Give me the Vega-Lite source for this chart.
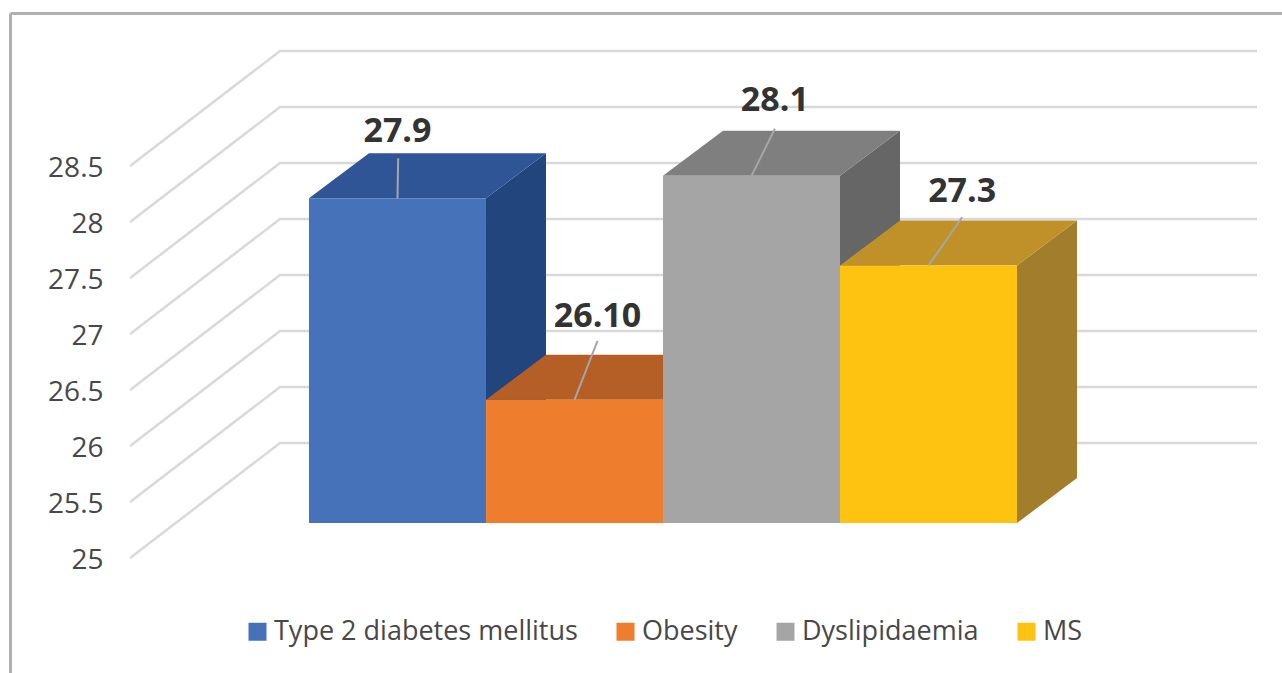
{
  "$schema": "https://vega.github.io/schema/vega-lite/v6.json",
  "width": 1272,
  "height": 660,
  "autosize": "none",
  "padding": {"left": 10, "top": 13, "right": 0, "bottom": 0},
  "background": "white",
  "config": {"view": {"stroke": null}},
  "datasets": {
    "burden": [
      {"category": "Type 2 diabetes mellitus", "value": 27.9, "label": "27.9"},
      {"category": "Obesity", "value": 26.1, "label": "26.10"},
      {"category": "Dyslipidaemia", "value": 28.1, "label": "28.1"},
      {"category": "MS", "value": 27.3, "label": "27.3"}
    ],
    "levels": [
      {"level": 25}, {"level": 25.5}, {"level": 26}, {"level": 26.5},
      {"level": 27}, {"level": 27.5}, {"level": 28}, {"level": 28.5}
    ]
  },
  "layer": [
    {
      "data": {"name": "levels"},
      "transform": [
        {"calculate": "[{x:-1.011,v:-0.3125},{x:-0.164,v:0.714},{x:5.356,v:0.714}]", "as": "path"},
        {"flatten": ["path"]},
        {"calculate": "datum.path.x", "as": "px"},
        {"calculate": "datum.level + datum.path.v", "as": "py"}
      ],
      "mark": {"type": "line", "stroke": "#d9d9d9", "strokeWidth": 2.5, "clip": false},
      "encoding": {
        "x": {"field": "px", "type": "quantitative", "sort": null,
              "scale": {"domain": [-1.689, 5.497], "nice": false, "zero": false},
              "axis": {"orient": "top", "title": null, "labels": false, "ticks": false, "grid": false,
                       "domain": true, "domainColor": "#b0b0b2", "domainWidth": 3}},
        "y": {"field": "py", "type": "quantitative",
              "scale": {"domain": [23.661, 29.554], "nice": false, "zero": false},
              "axis": {"orient": "left", "title": null, "grid": false, "ticks": false,
                       "domain": true, "domainColor": "#b0b0b2", "domainWidth": 3,
                       "values": [25, 25.5, 26, 26.5, 27, 27.5, 28, 28.5], "format": ".1~f",
                       "labelPadding": -93, "labelOffset": 37, "labelAlign": "right", "labelBaseline": "middle",
                       "labelFont": "Open Sans", "labelFontSize": 28, "labelColor": "#484848",
                       "labelOverlap": false, "labelBound": false, "labelFlush": false}},
        "detail": {"field": "level"}
      }
    },
    {
      "data": {"name": "burden"},
      "transform": [
        {"window": [{"op": "row_number", "as": "rank"}]},
        {"calculate": "[0, 0.339]", "as": "depth"},
        {"flatten": ["depth"]},
        {"calculate": "datum.rank + datum.depth", "as": "px"},
        {"calculate": "datum.value + datum.depth * 1.186", "as": "upper"},
        {"calculate": "25 + datum.depth * 1.186", "as": "lower"}
      ],
      "mark": {"type": "area", "interpolate": "linear", "opacity": 1},
      "encoding": {
        "x": {"field": "px", "type": "quantitative"},
        "y": {"field": "upper", "type": "quantitative"},
        "y2": {"field": "lower"},
        "color": {"field": "category", "type": "nominal", "legend": null,
                  "scale": {"domain": ["Type 2 diabetes mellitus", "Obesity", "Dyslipidaemia", "MS"],
                            "range": ["#22457e", "#9e5522", "#666666", "#a27d2c"]}}
      }
    },
    {
      "data": {"name": "burden"},
      "transform": [
        {"window": [{"op": "row_number", "as": "rank"}]},
        {"calculate": "[0, 0.339, 1, 1.339]", "as": "corner"},
        {"flatten": ["corner"]},
        {"calculate": "datum.rank - 1 + datum.corner", "as": "px"},
        {"calculate": "datum.value + (datum.corner > 0 ? 0.402 : 0)", "as": "upper"},
        {"calculate": "datum.value + (datum.corner > 1 ? 0.402 : 0)", "as": "lower"}
      ],
      "mark": {"type": "area", "interpolate": "linear", "opacity": 1},
      "encoding": {
        "x": {"field": "px", "type": "quantitative"},
        "y": {"field": "upper", "type": "quantitative"},
        "y2": {"field": "lower"},
        "color": {"field": "category", "type": "nominal", "legend": null,
                  "scale": {"domain": ["Type 2 diabetes mellitus", "Obesity", "Dyslipidaemia", "MS"],
                            "range": ["#2f5597", "#b55e25", "#7f7f7f", "#bf9128"]}}
      }
    },
    {
      "data": {"name": "burden"},
      "transform": [
        {"window": [{"op": "row_number", "as": "rank"}]},
        {"calculate": "datum.rank - 1", "as": "left"}
      ],
      "mark": {"type": "rect"},
      "encoding": {
        "x": {"field": "left", "type": "quantitative"},
        "x2": {"field": "rank"},
        "y": {"field": "value", "type": "quantitative"},
        "y2": {"datum": 25},
        "color": {"field": "category", "type": "nominal",
                  "scale": {"domain": ["Type 2 diabetes mellitus", "Obesity", "Dyslipidaemia", "MS"],
                            "range": ["#4672b9", "#ee7d2e", "#a5a5a5", "#fec310"]},
                  "legend": {"orient": "none", "legendX": 234, "legendY": 605, "direction": "horizontal",
                             "title": null, "columns": 4, "symbolType": "square", "symbolSize": 324,
                             "symbolStrokeWidth": 0, "labelFont": "Open Sans", "labelFontSize": 27,
                             "labelColor": "#484848", "labelOffset": 3, "columnPadding": 34,
                             "labelLimit": 400, "symbolOpacity": 1}}
      }
    },
    {
      "data": {"name": "burden"},
      "transform": [
        {"window": [{"op": "row_number", "as": "rank"}]},
        {"calculate": "datum.rank - 0.5", "as": "mid"},
        {"calculate": "datum.mid + {'Type 2 diabetes mellitus':0.004,'Obesity':0.13,'Dyslipidaemia':0.132,'MS':0.19}[datum.category]", "as": "tipX"},
        {"calculate": "datum.value + {'Type 2 diabetes mellitus':0.357,'Obesity':0.527,'Dyslipidaemia':0.42,'MS':0.43}[datum.category]", "as": "tipY"}
      ],
      "mark": {"type": "rule", "stroke": "#a6a6a6", "strokeWidth": 2},
      "encoding": {
        "x": {"field": "mid", "type": "quantitative"},
        "y": {"field": "value", "type": "quantitative"},
        "x2": {"field": "tipX"},
        "y2": {"field": "tipY"}
      }
    },
    {
      "data": {"name": "burden"},
      "transform": [
        {"window": [{"op": "row_number", "as": "rank"}]},
        {"calculate": "datum.rank - 0.5 + {'Type 2 diabetes mellitus':0,'Obesity':0.13,'Dyslipidaemia':0.132,'MS':0.19}[datum.category]", "as": "textX"},
        {"calculate": "datum.value + {'Type 2 diabetes mellitus':0.595,'Obesity':0.74,'Dyslipidaemia':0.667,'MS':0.66}[datum.category]", "as": "textY"}
      ],
      "mark": {"type": "text", "font": "Open Sans", "fontWeight": "bold", "fontSize": 34, "color": "#333333", "align": "center", "baseline": "middle"},
      "encoding": {
        "x": {"field": "textX", "type": "quantitative"},
        "y": {"field": "textY", "type": "quantitative"},
        "text": {"field": "label"}
      }
    }
  ],
  "resolve": {"scale": {"color": "independent"}}
}
